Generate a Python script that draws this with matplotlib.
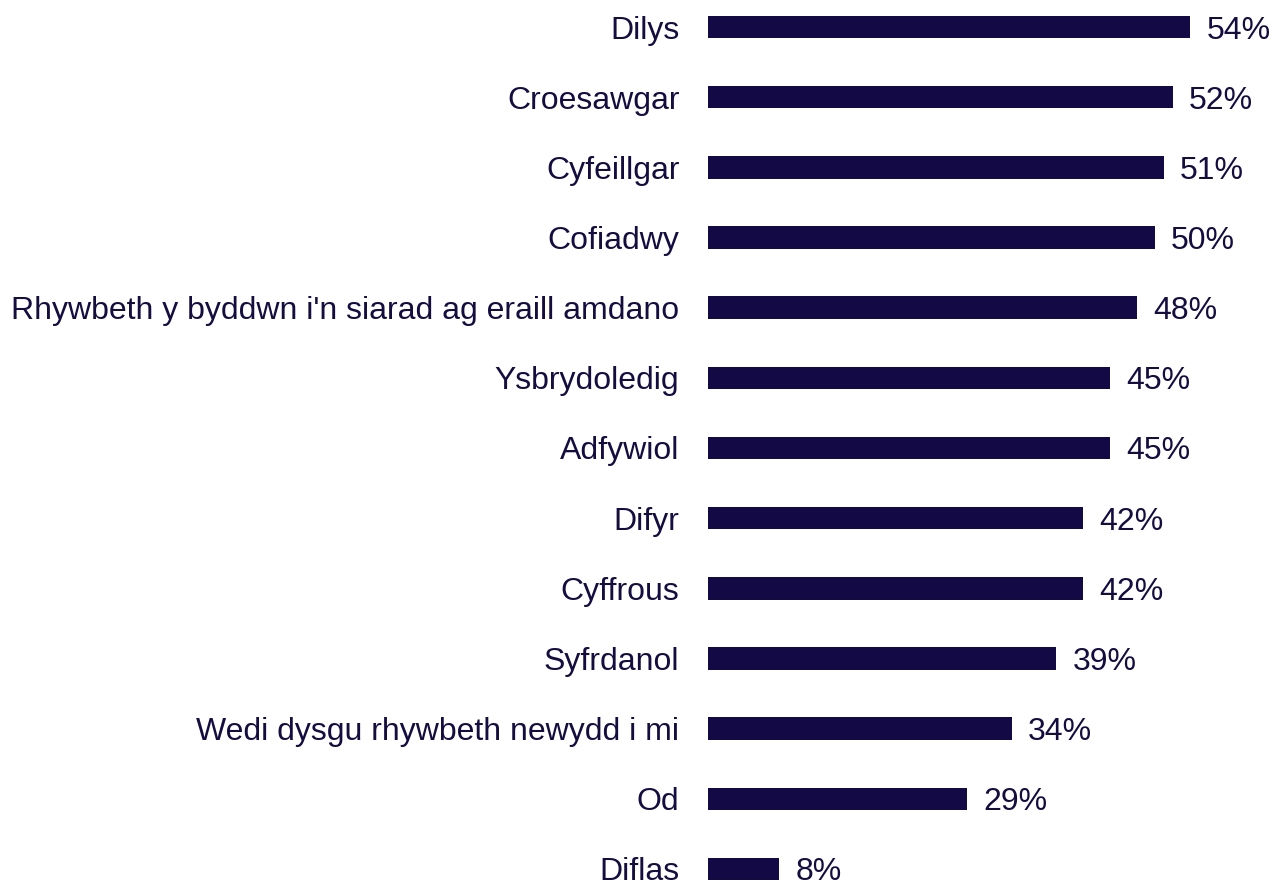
import matplotlib.pyplot as plt

labels = ["Dilys", "Croesawgar", "Cyfeillgar", "Cofiadwy",
          "Rhywbeth y byddwn i'n siarad ag eraill amdano", "Ysbrydoledig",
          "Adfywiol", "Difyr", "Cyffrous", "Syfrdanol",
          "Wedi dysgu rhywbeth newydd i mi", "Od", "Diflas"]
values = [54, 52, 51, 50, 48, 45, 45, 42, 42, 39, 34, 29, 8]

bar_color = "#130a45"
text_color = "#160d3f"

plt.rcParams['font.family'] = ['Liberation Sans', 'DejaVu Sans']

fig = plt.figure(figsize=(12.76, 8.83), dpi=100)
ax = fig.add_axes([708 / 1276, 0, 536 / 1276, 1])

ypos = list(range(len(values)))
ax.barh(ypos, values, height=0.32, color=bar_color)
ax.set_xlim(0, 60)
ax.set_ylim(12.2, -0.385)

for y, v, lab in zip(ypos, values, labels):
    ax.text(v + 1.8, y, f"{v}%", va="center_baseline", ha="left", fontsize=23, color=text_color)
    ax.text(-3.2, y, lab, va="center_baseline", ha="right", fontsize=23, color=text_color)

ax.axis("off")
fig.savefig("out.png", dpi=100)
